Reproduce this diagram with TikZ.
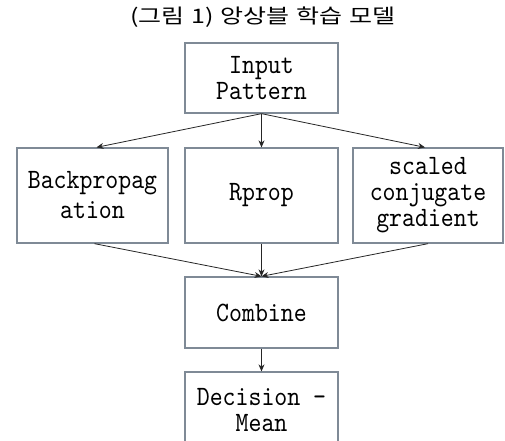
\documentclass[tikz,border=0pt]{standalone}
\usepackage{fontspec}
\usetikzlibrary{arrows.meta,calc}
\newfontfamily\boxfont{lmmono10-regular}[Extension=.otf,FakeStretch=0.88]
\newfontfamily\cjk{Noto Sans CJK KR}[FakeStretch=1.25]
\definecolor{boxline}{HTML}{7F8A96}
\begin{document}
\begin{tikzpicture}[x=1pt,y=-1pt,
  box/.style={draw=boxline,line width=1.3pt,fill=white,rectangle,inner sep=0pt,
    align=center,font=\boxfont\fontsize{28}{26}\selectfont},
  boxtext/.style={inner sep=0pt,align=center,font=\boxfont\fontsize{28}{26}\selectfont},
  conn/.style={draw=black!85,line width=0.8pt,-{Stealth[length=7pt,width=6pt]}}]
\useasboundingbox (0,0) rectangle (505,440);
\fill[white] (0,0) rectangle (505,440);
\node[font=\cjk\fontsize{20}{24}\selectfont] (title) at (263,17) {(그림\hspace{0.35em}1)\hspace{0.35em}앙상블\hspace{0.35em}학습\hspace{0.35em}모델};
\node[box,minimum width=153pt,minimum height=70pt] (inp) at (261.5,78) {Input\\Pattern};
\node[box,minimum width=151pt,minimum height=95pt,font=\boxfont\fontsize{28}{30}\selectfont] (bp) at (92.5,195.5) {Backpropag\\ation};
\node[box,minimum width=153pt,minimum height=95pt] (rp) at (261.5,195.5) {Rprop};
\node[box,minimum width=150pt,minimum height=95pt] (sc) at (428,195.5) {scaled\\conjugate\\gradient};
\node[box,minimum width=153pt,minimum height=71pt] (cb) at (261.5,312.5) {Combine};
\node[box,minimum width=153pt,minimum height=84pt] (dm) at (261.5,414) {};
\node[boxtext] (dmtext) at (261.5,410.5) {Decision -\\Mean};
\draw[conn] (inp.south) -- ([xshift=4pt]bp.north);
\draw[conn] (inp.south) -- (rp.north);
\draw[conn] (inp.south) -- ([xshift=-3pt]sc.north);
\draw[conn] ([xshift=2pt]bp.south) -- (cb.north);
\draw[conn] (rp.south) -- (cb.north);
\draw[conn] (sc.south) -- (cb.north);
\draw[conn] (cb.south) -- (dm.north);
\end{tikzpicture}
\end{document}
